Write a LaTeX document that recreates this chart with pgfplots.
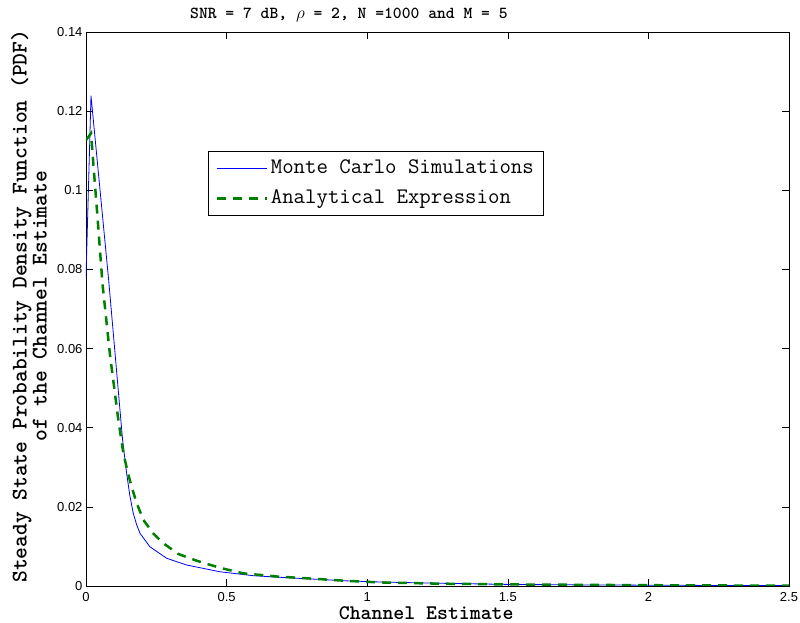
\documentclass[border=0pt]{standalone}
\usepackage{fontspec}
\newfontfamily\ticksf{Liberation Sans}
\usepackage{pgfplots}
\pgfplotsset{compat=1.18}
\definecolor{mblue}{RGB}{0,0,255}
\definecolor{mgreen}{RGB}{0,128,0}
\begin{document}
\begin{tikzpicture}
\begin{axis}[
  name=ax,
  scale only axis,
  width=703pt, height=554pt,
  xmin=0, xmax=2.5, ymin=0, ymax=0.14,
  xtick={0,0.5,1,1.5,2,2.5},
  xticklabels={0,0.5,1,1.5,2,2.5},
  ytick={0,0.02,0.04,0.06,0.08,0.1,0.12,0.14},
  yticklabels={0,0.02,0.04,0.06,0.08,0.1,0.12,0.14},
  scaled ticks=false,
  /pgf/number format/assume math mode=true,
  tick align=inside,
  major tick length=7pt,
  tick style={black, line width=0.6pt},
  axis line style={black, line width=0.8pt},
  tick label style={font=\ticksf\fontsize{13}{15}\selectfont, black},
  xticklabel style={yshift=-6.5pt, inner ysep=0pt},
  every axis title shift=0pt,
  title={SNR = 7 dB, $\rho$ = 2, N =1000 and M = 5},
  title style={at={([yshift=13pt]axis description cs:0.374,1)}, anchor=base, inner sep=0pt,
    font=\ttfamily\bfseries\fontsize{16.8}{19}\selectfont},
  xlabel={Channel Estimate},
  x label style={at={([yshift=-34pt]axis description cs:0.484,0)}, anchor=base, inner sep=0pt,
    font=\ttfamily\bfseries\fontsize{20.8}{22}\selectfont},
  ylabel={Steady State Probability Density Function (PDF)\\of the Channel Estimate},
  y label style={at={([xshift=-39pt]axis description cs:0,0.505)}, rotate=0, anchor=south, inner sep=0pt, align=center,
    font=\ttfamily\bfseries\fontsize{22.4}{20}\selectfont},
  legend style={at={(0.1735,0.785)}, anchor=north west, draw=black, line width=0.8pt,
    inner xsep=7.5pt, inner ysep=2pt,
    font=\ttfamily\mdseries\fontsize{22.2}{23}\selectfont,
    nodes={inner xsep=2.5pt, inner ysep=5pt, text height=15pt, text depth=5pt},
    cells={anchor=west}},
  legend image code/.code={\draw[#1] (0pt,0pt) -- (50pt,0pt);},
]
\addplot[mblue, line width=0.8pt] coordinates {
(0,0.078) (0.0178,0.1239) (0.0806,0.0773) (0.130,0.0370) (0.1445,0.0285)
(0.156,0.0228) (0.168,0.0184) (0.180,0.0155) (0.192,0.0133) (0.2275,0.0099) (0.287,0.0070) (0.358,0.0053)
(0.476,0.0036) (0.595,0.0026) (0.713,0.0021) (0.82,0.0017) (0.927,0.0013)
(1.05,0.0010) (1.25,0.0007) (1.5,0.0004) (1.75,0.00028) (2.0,0.0002)
(2.25,0.00013) (2.5,0.0001)
};
\addlegendentry{Monte Carlo Simulations}
\addplot[mgreen, line width=2.5pt, dash pattern=on 9pt off 7pt] coordinates {
(0,0.1127) (0.018,0.1144) (0.026,0.1068) (0.038,0.0959) (0.059,0.0761)
(0.0853,0.0584) (0.115,0.042) (0.133,0.0335) (0.148,0.0289) (0.162,0.0251)
(0.18,0.0210) (0.204,0.0167) (0.239,0.0133) (0.275,0.0108) (0.328,0.0081)
(0.393,0.0064) (0.476,0.0046) (0.559,0.0032) (0.678,0.0024) (0.796,0.0019)
(0.927,0.0013) (1.045,0.0009) (1.25,0.0006) (1.5,0.0004) (1.75,0.0003)
(2.0,0.0002) (2.25,0.00013) (2.5,0.0001)
};
\addlegendentry{Analytical Expression}
\end{axis}
\pgfresetboundingbox
\useasboundingbox ([xshift=-86pt,yshift=-37pt]ax.south west) rectangle ([xshift=11pt,yshift=32pt]ax.north east);
\end{tikzpicture}
\end{document}
